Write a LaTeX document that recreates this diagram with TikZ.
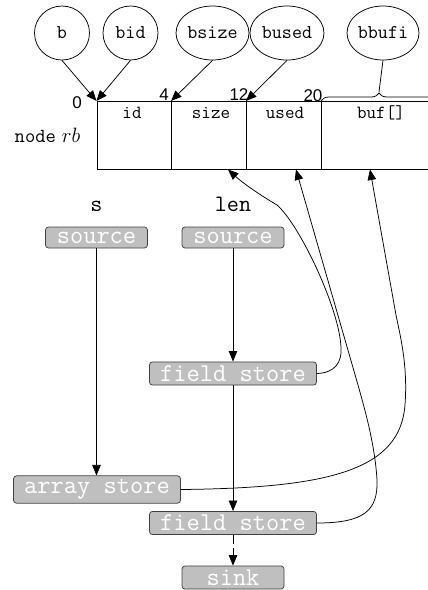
\documentclass[tikz,border=0pt]{standalone}
\usepackage{fontspec}
\newfontfamily\numfont{Liberation Sans}
\usetikzlibrary{arrows.meta,shapes.geometric,decorations.pathreplacing}

\begin{document}
\begin{tikzpicture}[x=1pt,y=-1pt,
  line width=0.75pt,
  tip/.style={-{Triangle[length=10.5pt,width=8.5pt]}},
  var/.style={ellipse,draw,inner sep=0pt,minimum height=54pt,
    font=\ttfamily\fontsize{19.5}{19.5}\selectfont},
  cell/.style={draw,rectangle,inner sep=0pt,minimum height=68pt,anchor=north west},
  field/.style={anchor=base,font=\ttfamily\fontsize{18.5}{18.5}\selectfont},
  offs/.style={font=\numfont\fontsize{17}{17}\selectfont},
  op/.style={rectangle,rounded corners=3pt,draw=black!75,fill=black!25,text=white,
    inner xsep=10.7pt,inner ysep=3.6pt,minimum width=102pt,minimum height=21pt,
    font=\ttfamily\fontsize{25.7}{25.7}\selectfont},
  tag/.style={anchor=base,font=\ttfamily\fontsize{23.5}{23.5}\selectfont}
]
\useasboundingbox (0,0) rectangle (428,590);
\clip (0,0) rectangle (428,590);

% record layout of the ring buffer
\node[cell,minimum width=74.5pt] (id)   at (96.5,101) {};
\node[cell,minimum width=75pt]   (size) at (171,101)  {};
\node[cell,minimum width=75pt]   (used) at (246,101)  {};
\node[cell,minimum width=120pt]  (buf)  at (321,101)  {};

\node[field] (lid)   at (132,118) {id};
\node[field] (lsize) at (211,118) {size};
\node[field] (lused) at (285,118) {used};
\node[field] (lbuf)  at (381,118) {buf[]};

\node[offs] (o0)  at (77,103) {0};
\node[offs] (o4)  at (164,95) {4};
\node[offs] (o12) at (239,95) {12};
\node[offs] (o20) at (313,96) {20};

\node[anchor=base,font=\fontsize{20}{20}\selectfont] (rbname) at (47.5,142) {\texttt{node} $rb$};

% pointer variables
\node[var,minimum width=55pt] (b)     at (62,33)    {b};
\node[var,minimum width=55pt] (bid)   at (130.5,33) {bid};
\node[var,minimum width=73pt] (bsize) at (212.5,33) {bsize};
\node[var,minimum width=74pt] (bused) at (287,33)   {bused};
\node[var,minimum width=72pt] (bbufi) at (383,33)   {bbufi};

\draw[tip] (b.south) -- (id.north west);
\draw[tip] (bid.south) -- (id.north west);
\draw[tip] (bsize.south) -- (size.north west);
\draw[tip] (bused.south) -- (used.north west);

\coordinate (bracestart) at (321,101);
\coordinate (braceend) at (437,101);
\coordinate (bracetip) at (379,92);
\draw[decorate,decoration={brace,amplitude=8pt}] (bracestart) -- (braceend);
\draw (bbufi.south) -- (bracetip);

% data-flow graph
\node[tag] (ts)   at (96.5,211) {s};
\node[tag] (tlen) at (233,211)  {len};

\node[op] (srcs) at (96.5,237.5) {source};
\node[op] (srcl) at (233,237.5)  {source};
\node[op] (fs1)  at (233,373.5)  {field store};
\node[op] (arr)  at (97,489.5)   {array store};
\node[op] (fs2)  at (233,523)    {field store};
\node[op] (sink) at (233,577.5)  {sink};

\draw[tip] (srcs.south) -- (srcs.south |- arr.north);
\draw[tip] (srcl) -- (fs1);
\draw[tip] (fs1) -- (fs2);
\draw[tip,dash pattern=on 9pt off 4pt] (fs2) -- (sink);

\coordinate (sizein) at (228,169.5);
\coordinate (usedin) at (296,169.5);
\coordinate (bufin)  at (370,169.5);

\draw[tip] (fs1.east) .. controls (335,373) and (342,362) .. (341,348)
  .. controls (340,310) and (300,225) .. (277,205)
  .. controls (265,198) and (245,185) .. (sizein);
\draw[tip] (fs2.east) .. controls (365,523) and (378,510) .. (377,480)
  .. controls (375,445) and (365,410) .. (358,385) -- (usedin);
\draw[tip] (arr.east) .. controls (330,488) and (400,470) .. (405,405)
  .. controls (408,365) and (400,335) .. (396,315) -- (bufin);
\end{tikzpicture}
\end{document}
